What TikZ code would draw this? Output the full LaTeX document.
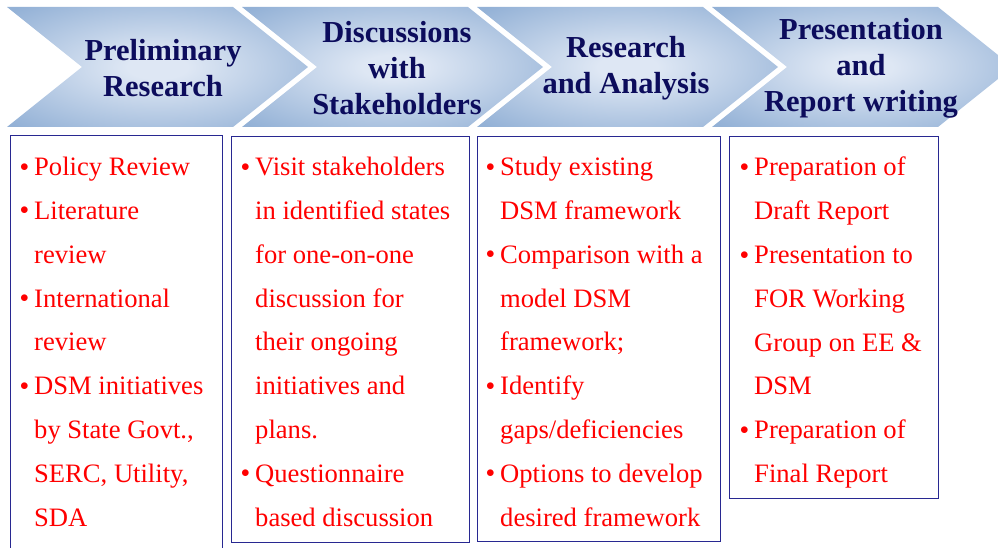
\documentclass[tikz,border=0pt]{standalone}
\usepackage{fontspec}
\setmainfont{Liberation Serif}
\usetikzlibrary{positioning}

\definecolor{chevedge}{RGB}{147,177,214}
\definecolor{chevmid}{RGB}{222,231,244}
\definecolor{titleblue}{RGB}{12,12,92}
\definecolor{boxline}{RGB}{40,40,145}
\definecolor{itemred}{RGB}{255,0,0}

\pgfdeclareradialshading{chevglow}{\pgfpoint{0bp}{0bp}}{color(0bp)=(chevmid); color(5bp)=(chevmid); color(34bp)=(chevedge); color(50bp)=(chevedge)}

\newcommand{\bitem}{\makebox[14pt][l]{\raisebox{4.5pt}{\fontsize{17}{17}\selectfont$\bullet$}}}
\newcommand{\bcont}{\hspace*{14pt}}

\tikzset{
  chevron/.style={shading=chevglow},
  steptitle/.style={font=\fontsize{30.5}{36}\selectfont\bfseries, text=titleblue, align=center},
  listbox/.style={draw=boxline, line width=0.9pt, inner sep=0, anchor=north west},
  listtext/.style={font=\fontsize{26.6}{43.8}\selectfont, text=itemred, align=left, inner sep=0}
}

\begin{document}
\begin{tikzpicture}[x=1pt, y=-1pt]
  \path[use as bounding box, clip] (0,0) rectangle (998,548);
  \foreach \i [evaluate=\i as \xo using 7+235*\i] in {0,...,3}
    \shade[chevron] (\xo,7) -- ({\xo+226},7) -- ({\xo+301},67) -- ({\xo+226},127)
      -- (\xo,127) -- ({\xo+75},67) -- cycle;

  \node[steptitle] (prelim) at (163,68) {Preliminary\\Research};
  \node[steptitle] (discuss) at (397,68) {Discussions\\with\\Stakeholders};
  \node[steptitle] (analysis) at (626,68) {Research\\and Analysis};
  \node[steptitle] (report) at (861,68) {Presentation\\and\\Report writing};

  \node[listbox, minimum width=212pt, minimum height=430pt] (boxA) at (10,135) {};
  \node[listbox, minimum width=238pt, minimum height=406pt] (boxB) at (231,136) {};
  \node[listbox, minimum width=243pt, minimum height=405pt] (boxC) at (477,136) {};
  \node[listbox, minimum width=209pt, minimum height=362pt] (boxD) at (729,136) {};

  \node[listtext, below right=22pt and 10pt of boxA.north west] (itemsA)
    {\bitem Policy Review\\ \bitem Literature\\ \bcont review\\ \bitem International\\
     \bcont review\\ \bitem DSM initiatives\\ \bcont by State Govt.,\\ \bcont SERC, Utility,\\ \bcont SDA};
  \node[listtext, below right=21pt and 10pt of boxB.north west] (itemsB)
    {\bitem Visit stakeholders\\ \bcont in identified states\\ \bcont for one-on-one\\
     \bcont discussion for\\ \bcont their ongoing\\ \bcont initiatives and\\ \bcont plans.\\
     \bitem Questionnaire\\ \bcont based discussion};
  \node[listtext, below right=21pt and 9pt of boxC.north west] (itemsC)
    {\bitem Study existing\\ \bcont DSM framework\\ \bitem Comparison with a\\ \bcont model DSM\\
     \bcont framework;\\ \bitem Identify\\ \bcont gaps/deficiencies\\ \bitem Options to develop\\
     \bcont desired framework};
  \node[listtext, below right=21pt and 11pt of boxD.north west] (itemsD)
    {\bitem Preparation of\\ \bcont Draft Report\\ \bitem Presentation to\\ \bcont FOR Working\\
     \bcont Group on EE \&\\ \bcont DSM\\ \bitem Preparation of\\ \bcont Final Report};
\end{tikzpicture}
\end{document}
